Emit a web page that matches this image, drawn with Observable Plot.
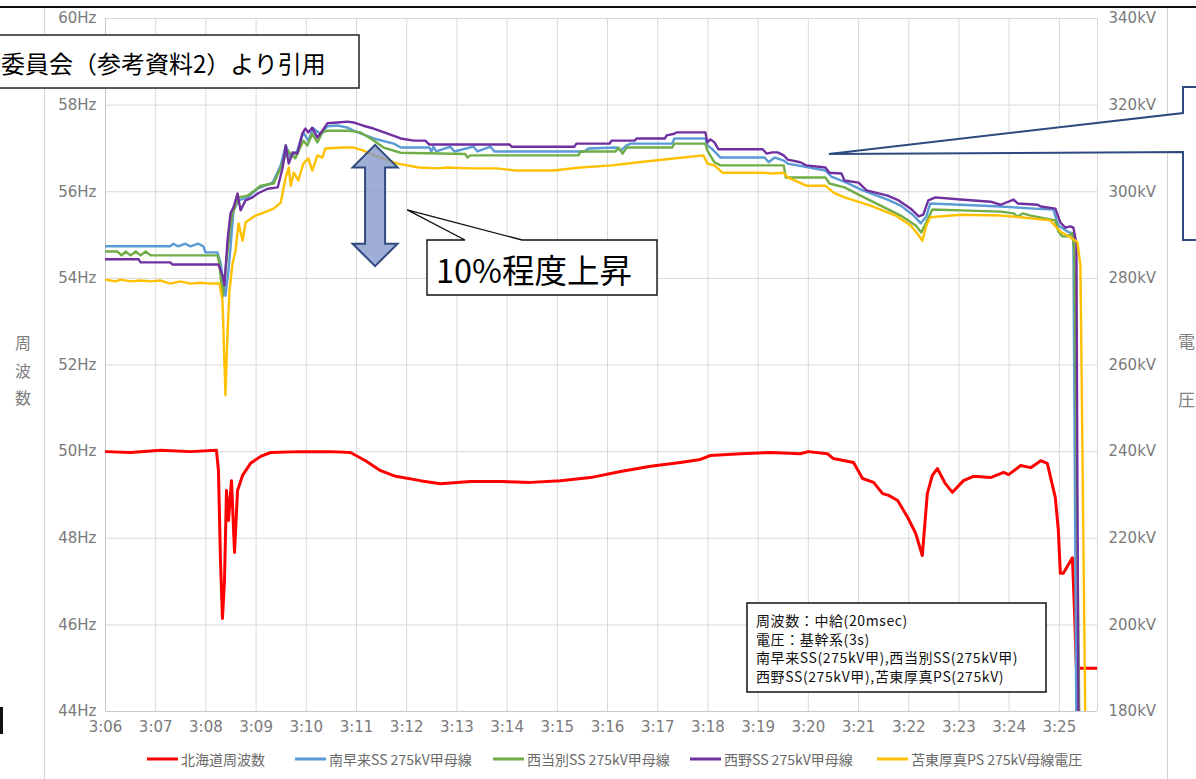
<!DOCTYPE html>
<html>
<head>
<meta charset="utf-8">
<script src="https://cdn.jsdelivr.net/npm/d3@7"></script>
<script src="https://cdn.jsdelivr.net/npm/@observablehq/plot@0.6"></script>
<style>
  html, body { margin: 0; padding: 0; background: #fff; }
  #wrap { position: relative; width: 1196px; height: 779px; overflow: hidden; }
</style>
</head>
<body>
<div id="wrap"></div>
<script>
// ---------- data (time = minutes after 3:00) ----------
const minuteTicks = [6,7,8,9,10,11,12,13,14,15,16,17,18,19,20,21,22,23,24,25];
const hzTicks = [44,46,48,50,52,54,56,58,60];
const legendNames = ["北海道周波数","南早来SS 275kV甲母線","西当別SS 275kV甲母線","西野SS 275kV甲母線","苫東厚真PS 275kV母線電圧"];
const seriesColors = ["#FF0000","#5B9BD5","#70AD47","#7030A0","#FFC000"];

// 北海道周波数 [time, Hz]
const hokkaidoHz = [[6.00,50.00],[6.50,49.98],[7.10,50.03],[7.69,50.00],[8.21,50.03],[8.25,49.56],[8.29,47.49],[8.33,46.15],[8.37,47.02],[8.41,49.10],[8.45,48.41],[8.51,49.33],[8.57,47.67],[8.63,49.10],[8.73,49.45],[8.89,49.73],[9.09,49.89],[9.29,49.98],[9.88,50.00],[10.48,50.00],[10.88,49.98],[11.18,49.79],[11.48,49.56],[11.78,49.43],[12.27,49.33],[12.67,49.26],[13.27,49.31],[13.87,49.31],[14.47,49.29],[15.06,49.33],[15.66,49.40],[16.26,49.54],[16.86,49.66],[17.45,49.75],[17.85,49.82],[18.05,49.91],[18.65,49.95],[19.25,49.98],[19.84,49.95],[20.00,50.00],[20.38,49.95],[20.50,49.84],[20.90,49.75],[21.08,49.38],[21.30,49.29],[21.48,49.03],[21.60,48.99],[21.78,48.87],[21.98,48.48],[22.14,48.11],[22.27,47.60],[22.37,49.03],[22.47,49.45],[22.57,49.61],[22.73,49.26],[22.87,49.06],[23.09,49.33],[23.29,49.43],[23.63,49.40],[23.89,49.52],[23.99,49.47],[24.23,49.68],[24.43,49.63],[24.63,49.79],[24.76,49.73],[24.92,48.94],[24.98,48.18],[25.02,47.19],[25.08,47.19],[25.26,47.55],[25.30,46.38],[25.34,45.00],[25.76,45.00]];

// 南早来SS [time, kV]
const minamiKV = [[6.00,287.4],[7.29,287.4],[7.35,288.0],[7.45,287.4],[7.59,288.0],[7.69,287.4],[7.85,288.0],[7.95,287.4],[7.99,286.0],[8.23,286.0],[8.29,283.7],[8.39,276.0],[8.45,281.8],[8.49,287.1],[8.55,295.7],[8.65,298.0],[8.83,298.7],[9.03,300.7],[9.33,302.1],[9.49,306.1],[9.59,310.7],[9.69,307.9],[9.82,309.5],[9.94,313.7],[10.04,311.8],[10.14,314.6],[10.28,313.4],[10.42,315.1],[10.62,315.3],[10.82,314.8],[10.94,314.1],[11.34,312.3],[11.74,311.1],[11.88,310.2],[12.45,310.2],[12.49,309.3],[12.53,310.4],[12.59,309.3],[12.87,310.4],[12.95,309.3],[13.33,310.4],[13.41,309.3],[13.67,310.4],[13.75,309.3],[15.54,309.3],[15.62,310.0],[16.18,310.2],[16.26,309.5],[16.38,310.7],[16.46,311.1],[17.29,311.1],[17.33,312.3],[17.95,312.3],[17.99,310.7],[18.07,310.0],[18.25,307.9],[19.13,307.9],[19.21,306.8],[19.33,307.9],[19.51,307.2],[19.59,306.5],[20.34,304.9],[20.46,303.5],[20.76,302.1],[21.08,300.3],[21.58,298.2],[21.84,296.8],[22.08,294.7],[22.24,292.7],[22.35,294.3],[22.43,297.3],[23.03,297.0],[23.83,296.6],[24.49,296.1],[24.88,295.9],[24.98,292.2],[25.16,290.8],[25.26,290.4],[25.28,288.3],[25.34,175.0]];

// 西当別SS [time, kV]
const nishitobetsuKV = [[6.00,286.2],[6.24,286.2],[6.32,285.3],[6.40,286.2],[6.50,285.3],[6.60,286.2],[6.70,285.3],[6.80,286.2],[6.90,285.3],[8.23,285.3],[8.27,283.4],[8.33,275.6],[8.41,284.1],[8.49,292.2],[8.53,295.0],[8.65,298.7],[8.83,299.1],[9.09,301.4],[9.35,301.9],[9.49,305.6],[9.63,309.5],[9.78,307.7],[9.94,311.8],[10.02,310.7],[10.12,313.4],[10.22,311.4],[10.32,313.7],[10.42,314.1],[10.82,314.1],[11.08,313.7],[11.28,312.3],[11.54,310.2],[11.88,309.0],[13.17,308.7],[13.21,307.9],[13.27,308.4],[15.42,308.4],[15.46,309.3],[16.16,309.3],[16.22,310.2],[16.30,308.8],[16.38,310.2],[17.29,310.2],[17.33,311.1],[17.95,311.1],[17.99,309.5],[18.13,306.8],[18.25,306.1],[19.51,306.1],[19.55,303.3],[20.34,303.3],[20.42,301.9],[20.72,301.0],[21.04,299.1],[21.44,296.8],[21.84,294.5],[22.14,292.2],[22.25,290.6],[22.35,292.9],[22.47,295.9],[23.03,295.7],[23.83,295.4],[24.09,295.0],[24.17,294.3],[24.27,295.0],[24.43,294.5],[24.92,293.4],[24.98,290.8],[25.06,289.7],[25.16,289.7],[25.26,290.4],[25.30,286.4],[25.40,175.0]];

// 西野SS [time, kV]
const nishinoKV = [[6.00,284.4],[6.66,284.4],[6.70,283.7],[7.29,283.7],[7.33,283.2],[8.25,283.2],[8.33,280.7],[8.37,278.4],[8.43,288.7],[8.49,295.0],[8.55,296.4],[8.63,299.6],[8.69,295.7],[8.79,298.0],[8.93,298.7],[9.03,299.6],[9.23,300.7],[9.43,301.0],[9.53,305.6],[9.59,310.7],[9.65,306.5],[9.73,309.1],[9.82,308.8],[9.92,313.4],[9.98,314.6],[10.04,313.7],[10.12,314.8],[10.22,312.5],[10.32,314.1],[10.42,315.8],[10.62,316.0],[10.82,316.2],[10.94,316.0],[11.12,315.3],[11.34,314.6],[11.62,313.4],[11.88,312.3],[12.14,311.8],[12.37,311.8],[12.45,310.9],[14.05,310.9],[14.09,310.4],[15.34,310.4],[15.38,311.1],[16.04,311.1],[16.08,311.8],[16.54,311.8],[16.58,312.3],[17.14,312.3],[17.18,313.0],[17.33,313.4],[17.37,313.7],[17.95,313.7],[17.99,311.4],[18.05,312.1],[18.13,311.4],[18.21,309.8],[19.09,309.8],[19.17,308.8],[19.28,309.1],[19.39,309.1],[19.51,308.4],[19.59,307.4],[19.84,306.8],[19.96,306.1],[20.34,305.6],[20.42,304.4],[20.66,304.2],[20.72,302.6],[21.00,302.1],[21.16,300.3],[21.58,299.1],[21.80,298.0],[22.04,296.1],[22.20,294.3],[22.29,294.7],[22.39,298.0],[22.53,298.7],[23.03,298.2],[23.63,297.7],[23.83,297.0],[24.09,298.2],[24.17,297.3],[24.57,297.0],[24.63,296.6],[24.92,296.1],[25.02,292.9],[25.12,291.7],[25.22,292.0],[25.28,291.7],[25.34,288.0],[25.38,175.0]];

// 苫東厚真PS [time, kV]
const tomatoKV = [[6.00,279.7],[6.20,279.3],[6.30,279.7],[6.50,279.3],[6.70,279.5],[6.90,279.3],[7.10,279.5],[7.29,278.8],[7.49,279.3],[7.69,278.8],[7.89,279.0],[8.09,278.8],[8.27,278.8],[8.33,274.9],[8.39,253.0],[8.43,267.3],[8.47,277.2],[8.53,283.4],[8.59,286.4],[8.65,292.7],[8.73,288.7],[8.79,292.9],[8.85,293.4],[8.99,294.5],[9.15,295.2],[9.35,296.1],[9.49,297.5],[9.59,303.3],[9.65,305.6],[9.69,301.4],[9.75,304.4],[9.84,302.6],[9.94,306.5],[10.04,307.7],[10.12,304.9],[10.22,308.4],[10.32,307.9],[10.38,310.0],[10.74,310.2],[10.94,310.2],[11.14,309.5],[11.34,308.4],[11.82,306.5],[12.25,305.6],[12.63,305.4],[12.79,305.6],[13.25,305.4],[13.79,305.4],[14.17,304.9],[14.92,304.9],[15.46,305.6],[16.08,306.1],[16.62,306.8],[17.08,307.4],[17.51,307.9],[17.91,308.4],[17.99,306.5],[18.13,306.1],[18.29,304.4],[19.13,304.4],[19.28,304.2],[19.51,304.4],[19.59,303.3],[19.96,301.4],[20.34,301.4],[20.50,299.8],[20.72,298.7],[21.24,296.8],[21.74,294.5],[22.04,292.2],[22.20,289.9],[22.27,288.7],[22.35,292.2],[22.43,294.1],[23.03,294.7],[23.83,294.5],[24.23,294.1],[24.49,293.8],[24.82,293.4],[25.02,290.8],[25.16,289.9],[25.32,288.7],[25.36,288.3],[25.42,283.0],[25.52,175.0]];

const noteLines = ["周波数：中給(20msec)","電圧：基幹系(3s)","南早来SS(275kV甲),西当別SS(275kV甲)","西野SS(275kV甲),苫東厚真PS(275kV)"];
const titleText = "委員会（参考資料2）より引用";
const calloutText = "10%程度上昇";

// ---------- helpers ----------
const kvToHz = v => 44 + (v - 180) / 10;   // right axis (180–340 kV) maps onto left axis (44–60 Hz)
const fmtMin = m => `3:${String(m).padStart(2, "0")}`;
const xEnd = 25.76;

const voltSeries = [minamiKV, nishitobetsuKV, nishinoKV, tomatoKV];

const chart = Plot.plot({
  width: 1196,
  height: 779,
  marginLeft: 105,
  marginRight: 99,
  marginTop: 18,
  marginBottom: 68,
  style: { fontFamily: "DejaVu Sans", fontSize: "15px", background: "#fff", overflow: "hidden" },
  x: { type: "linear", domain: [6, xEnd], axis: null },
  y: { type: "linear", domain: [44, 60], axis: null },
  marks: [
    Plot.ruleX(minuteTicks, { stroke: "#d9d9d9", strokeWidth: 1 }),
    Plot.ruleX([xEnd], { stroke: "#d9d9d9", strokeWidth: 1 }),
    Plot.ruleY(hzTicks, { stroke: "#d9d9d9", strokeWidth: 1 }),
    Plot.ruleX([6], { stroke: "#c8c8c8", strokeWidth: 1 }),
    Plot.ruleY([44], { stroke: "#c8c8c8", strokeWidth: 1 }),
    Plot.axisX(minuteTicks, { anchor: "bottom", tickSize: 0, tickPadding: 10, tickFormat: fmtMin, fill: "#7a7a7a", fontSize: 15 }),
    Plot.axisY(hzTicks, { anchor: "left", tickSize: 0, tickPadding: 9, tickFormat: d => `${d}Hz`, fill: "#7a7a7a", fontSize: 15 }),
    Plot.axisY(hzTicks, { anchor: "right", tickSize: 0, tickPadding: 11, tickFormat: d => `${180 + (d - 44) * 10}kV`, fill: "#7a7a7a", fontSize: 15 }),
    Plot.line(hokkaidoHz, { x: d => d[0], y: d => d[1], stroke: seriesColors[0], strokeWidth: 3, clip: true }),
    ...voltSeries.map((s, i) => Plot.line(s, { x: d => d[0], y: d => kvToHz(d[1]), stroke: seriesColors[i + 1], strokeWidth: 2.4, clip: true }))
  ]
});

document.getElementById("wrap").appendChild(chart);

// ---------- annotations ----------
const sx = chart.scale("x"), sy = chart.scale("y");
const X = v => sx.apply(v), Y = v => sy.apply(kvToHz(v));
const svg = d3.select(chart);
const g = svg.append("g").attr("text-anchor", "start");
const JP = "'Noto Sans CJK JP', 'Noto Sans', sans-serif";
const addText = (x, y, str, size, fill, anchor = "start") =>
  g.append("text").attr("x", x).attr("y", y).attr("text-anchor", anchor).attr("dominant-baseline", "central")
    .attr("font-family", JP).attr("font-size", size).attr("fill", fill).text(str);

// page frame lines
g.append("line").attr("x1", 0).attr("x2", 1196).attr("y1", 7).attr("y2", 7).attr("stroke", "#111").attr("stroke-width", 2);
g.append("line").attr("x1", 44.5).attr("x2", 44.5).attr("y1", 8).attr("y2", 779).attr("stroke", "#d4d4d4");
g.append("line").attr("x1", 1167.5).attr("x2", 1167.5).attr("y1", 8).attr("y2", 779).attr("stroke", "#d4d4d4");
g.append("rect").attr("x", 0).attr("y", 707).attr("width", 3).attr("height", 27).attr("fill", "#111");

// axis titles
[["周", 342], ["波", 370], ["数", 397]].forEach(([c, y]) => addText(23, y, c, 16, "#7f7f7f", "middle"));
[["電", 340], ["圧", 398]].forEach(([c, y]) => addText(1178, y, c, 17, "#7f7f7f"));

// right callout (navy)
{
  const tx = X(20.42), ty = Y(308.6);
  const pts = [[1198, 87], [1183, 87], [1183, 113], [tx, ty], [1183, 152], [1183, 240], [1198, 240]];
  g.append("path").attr("d", "M" + pts.map(p => p.join(",")).join("L"))
    .attr("fill", "#fff").attr("stroke", "#2F4A7F").attr("stroke-width", 2).attr("stroke-linejoin", "miter");
}

// 10% callout
{
  const tx = X(12.02), ty = Y(295.7);
  const d = `M427,240L465,240L${tx},${ty}L522,240L657,240L657,295L427,295Z`;
  g.append("path").attr("d", d).attr("fill", "#fff").attr("stroke", "#111").attr("stroke-width", 1.4);
  addText(436, 268, calloutText, 32.5, "#000");
}

// double arrow
{
  const cx = X(11.38), top = Y(310.7), bot = Y(282.7);
  const hw = 22.5, hd = 22.5, sw = 10;
  const d = `M${cx},${top}L${cx + hw},${top + hd}L${cx + sw},${top + hd}L${cx + sw},${bot - hd}L${cx + hw},${bot - hd}L${cx},${bot}` +
            `L${cx - hw},${bot - hd}L${cx - sw},${bot - hd}L${cx - sw},${top + hd}L${cx - hw},${top + hd}Z`;
  g.append("path").attr("d", d).attr("fill", "#8497c8").attr("fill-opacity", 0.78)
    .attr("stroke", "#2F4A7F").attr("stroke-width", 2);
}

// note box
g.append("rect").attr("x", 747).attr("y", 603).attr("width", 299).attr("height", 89)
  .attr("fill", "#fff").attr("stroke", "#111").attr("stroke-width", 1.5);
noteLines.forEach((t, i) => addText(756, 620 + i * 18.6, t, 14, "#111").attr("letter-spacing", 0.6));

// title box
g.append("rect").attr("x", -5).attr("y", 35).attr("width", 364).attr("height", 53)
  .attr("fill", "#fff").attr("stroke", "#222").attr("stroke-width", 1.5);
addText(1, 62, titleText, 24, "#000");

// legend
const legendX = [147, 295, 493, 690, 877];
legendNames.forEach((name, i) => {
  const x0 = legendX[i];
  g.append("line").attr("x1", x0).attr("x2", x0 + 31).attr("y1", 759).attr("y2", 759)
    .attr("stroke", seriesColors[i]).attr("stroke-width", 3);
  addText(x0 + 34, 759, name, 14, "#6a6a6a");
});
</script>
</body>
</html>
